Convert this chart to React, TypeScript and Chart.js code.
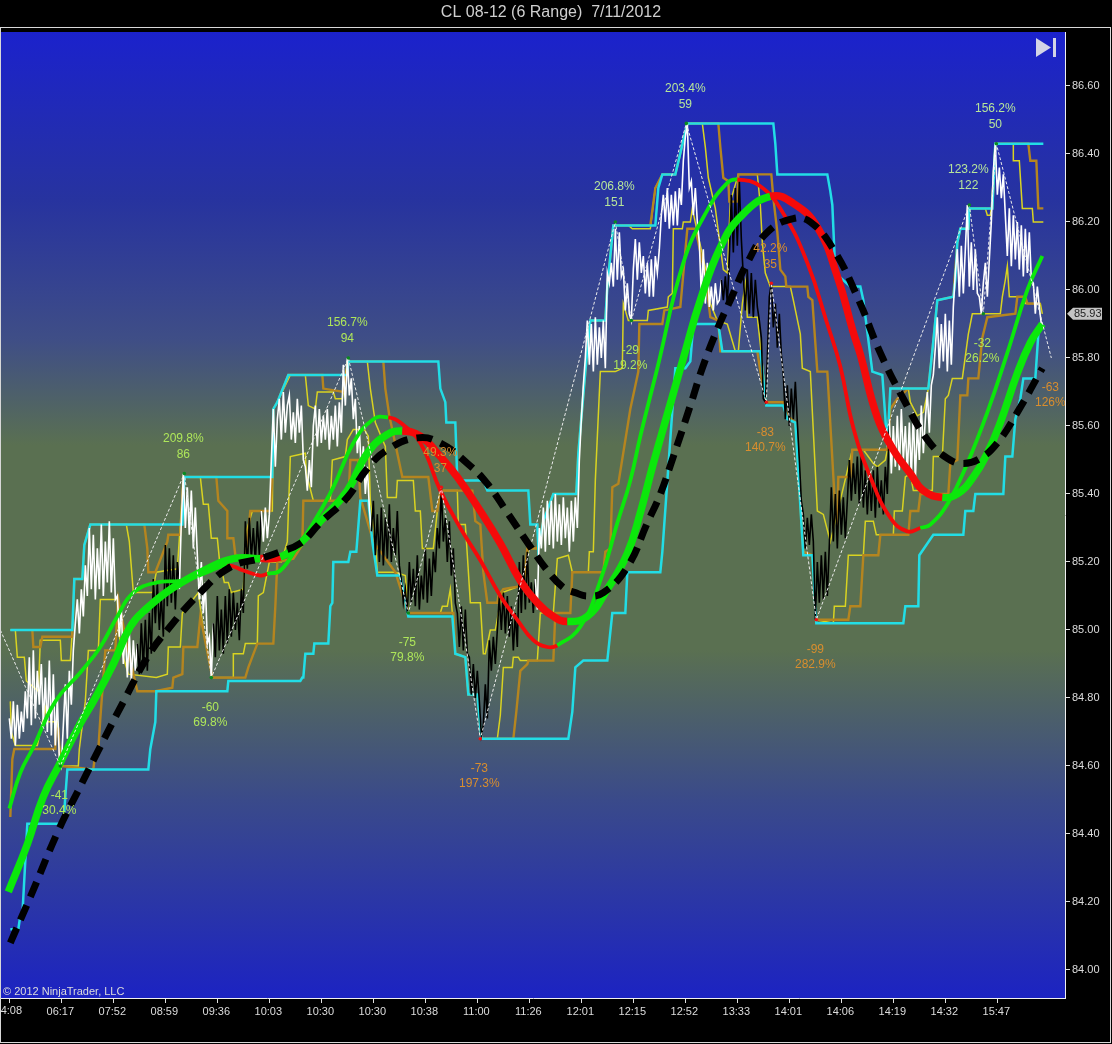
import React, { useEffect, useRef } from "react";
import { Chart, registerables } from "chart.js";

Chart.register(...registerables);

type Pair = [number, number];

const chartTitle = "CL 08-12 (6 Range)  7/11/2012";
const copyrightText = "© 2012 NinjaTrader, LLC";
const lastPrice = 85.93;

const timeLabels = ["04:08","06:17","07:52","08:59","09:36","10:03","10:30","10:30","10:38","11:00","11:26","12:01","12:15","12:52","13:33","14:01","14:06","14:19","14:32","15:47"];
const barsPerLabel = 52;
const priceTicks = [84.0,84.2,84.4,84.6,84.8,85.0,85.2,85.4,85.6,85.8,86.0,86.2,86.4,86.6];

// Range bars: alternating highs and lows, one every 2 bar units.
const barStep = 2;
const priceBars = [
84.74,84.68,84.79,84.66,84.78,84.68,84.76,84.70,84.82,84.74,
84.92,84.72,84.94,84.74,84.88,84.78,84.90,84.72,84.86,84.70,
84.91,84.69,84.87,84.66,84.80,84.62,84.60,84.72,84.84,84.68,
84.88,84.78,84.94,85.02,85.09,84.99,85.12,85.04,85.19,85.10,
85.30,85.12,85.28,85.09,85.24,85.12,85.31,85.10,85.26,85.14,
85.32,85.11,85.27,85.09,85.10,84.98,85.06,84.90,85.00,84.86,
84.99,84.85,84.97,84.88,84.96,84.87,85.02,84.89,85.03,84.88,
85.05,84.93,85.15,85.02,85.14,85.00,85.10,84.98,85.25,85.07,
85.24,85.08,85.22,85.06,85.20,85.12,85.32,85.46,85.30,85.42,
85.28,85.41,85.24,85.36,85.22,85.09,85.20,85.05,85.14,84.96,
84.98,84.86,85.02,84.92,85.10,84.94,85.06,84.93,85.10,84.96,
85.12,84.98,85.11,85.00,85.08,84.97,85.12,85.05,85.32,85.18,
85.33,85.21,85.30,85.20,85.32,85.22,85.35,85.26,85.36,85.27,
85.34,85.50,85.65,85.48,85.62,85.68,85.56,85.70,85.58,85.66,
85.69,85.56,85.64,85.55,85.68,85.58,85.66,85.50,85.48,85.41,
85.50,85.42,85.60,85.66,85.54,85.65,85.55,85.63,85.56,85.65,
85.53,85.63,85.56,85.66,85.54,85.67,85.58,85.78,85.66,85.80,
85.69,85.74,85.62,85.68,85.52,85.60,85.45,85.54,85.40,85.48,
85.36,85.29,85.38,85.22,85.34,85.20,85.36,85.19,85.33,85.21,
85.37,85.20,85.30,85.22,85.35,85.19,85.15,85.08,85.12,85.05,
85.20,85.08,85.18,85.07,85.22,85.06,85.16,85.09,85.24,85.08,
85.21,85.10,85.23,85.17,85.30,85.24,85.42,85.26,85.33,85.20,
85.32,85.16,85.24,85.08,85.05,84.95,85.07,84.94,85.06,84.93,
84.92,84.81,84.90,84.80,84.88,84.79,84.69,84.72,84.84,84.74,
84.97,84.88,84.98,84.90,85.00,85.10,85.00,85.11,84.99,85.10,
84.98,85.07,84.94,85.05,84.95,85.20,85.05,85.22,85.06,85.23,
85.08,85.14,85.05,85.15,85.06,85.30,85.24,85.36,85.23,85.38,
85.25,85.38,85.24,85.40,85.26,85.37,85.25,85.39,85.27,85.36,
85.23,85.38,85.26,85.39,85.30,85.50,85.62,85.72,85.80,85.91,
85.78,85.90,85.76,85.92,85.78,85.89,85.80,85.91,85.77,86.05,
86.02,86.08,86.01,86.18,86.03,86.17,86.04,86.06,85.94,86.02,
85.93,85.91,86.06,86.15,86.03,86.14,86.05,86.10,85.99,86.08,
85.98,86.09,85.98,86.10,86.05,86.12,86.22,86.28,86.20,86.30,
86.18,86.28,86.19,86.29,86.19,86.30,86.25,86.38,86.45,86.49,
86.30,86.32,86.22,86.30,86.20,86.14,85.98,86.12,85.96,86.08,
85.95,86.01,85.94,86.02,85.96,85.97,86.03,85.97,86.04,85.96,
86.10,86.28,86.11,86.30,86.13,86.32,86.15,86.04,85.94,86.06,
85.93,86.05,85.92,86.03,85.95,85.91,85.86,85.68,85.67,85.80,
85.98,86.02,85.89,85.96,85.83,85.93,85.81,85.75,85.62,85.72,
85.60,85.71,85.62,85.73,85.61,85.50,85.38,85.34,85.24,85.33,
85.25,85.34,85.26,85.03,85.20,85.08,85.22,85.09,85.23,85.10,
85.25,85.42,85.26,85.40,85.24,85.41,85.28,85.39,85.27,85.38,
85.50,85.38,85.49,85.40,85.51,85.37,85.52,85.36,85.47,85.34,
85.46,85.35,85.47,85.33,85.48,85.36,85.44,85.34,85.48,85.40,
85.62,85.46,85.60,85.48,85.63,85.47,85.65,85.50,85.60,85.46,
85.61,85.45,85.64,85.44,85.60,85.50,85.66,85.52,85.62,85.70,
85.58,85.72,85.75,85.83,85.92,85.77,85.90,85.79,85.93,85.76,
85.91,85.78,85.95,86.05,86.12,85.98,86.13,85.99,86.12,86.25,
86.01,86.14,86.00,86.12,85.99,85.98,85.93,86.02,86.08,85.98,
86.09,86.20,86.35,86.43,86.28,86.36,86.27,86.34,86.22,86.10,
86.24,86.07,86.22,86.09,86.20,86.06,86.19,86.04,86.18,86.05,
86.17,86.03,86.02,85.93,86.01,85.95,85.90,
];
const darkBarRanges: Pair[] = [[127,169],[204,251],[361,526],[711,879]];

// Swing pivots
const swingStart: Pair = [-9, 85.0];
const pivotBars = [51,175,202,339,399,432,471,606,622,677,757,762,807,960,974,987,1042];
const pivotPrices = [84.60,85.46,84.86,85.80,85.05,85.42,84.68,86.20,85.91,86.49,85.67,86.02,85.03,86.25,85.93,86.43,85.80];
const pivotLabelA = ["-41","209.8%","-60","156.7%","-75","49.3%","-73","206.8%","-29","203.4%","-83","42.2%","-99","123.2%","-32","156.2%","-63"];
const pivotLabelB = ["30.4%","86","69.8%","94","79.8%","37","197.3%","151","19.2%","59","140.7%","35","282.9%","122","26.2%","50","126%"];
const pivotLabelColors = ["#aee65a","#aee65a","#aee65a","#aee65a","#aee65a","#d98e2e","#d98e2e","#b7e59a","#aee65a","#b7e59a","#d98e2e","#d98e2e","#d98e2e","#b7e59a","#aee65a","#b7e59a","#d98e2e"];
const pivotDotColors = ["#0a8a20","#0a8a20","#0a8a20","#0a8a20","#0a8a20","#f01010","#f01010","#0a8a20","#0a8a20","#0a8a20","#f01010","#f01010","#f01010","#0a8a20","#0a8a20","#0a8a20"];

const cyanUpper: Pair[] = [[1,85.00],[63,85.00],[65,85.15],[73,85.15],[75,85.25],[81,85.31],[173,85.31],[175,85.45],[263,85.45],[264,85.65],[268,85.67],[279,85.75],[338,85.75],[339,85.79],[429,85.79],[431,85.71],[436,85.67],[437,85.61],[446,85.61],[448,85.44],[474,85.44],[478,85.41],[519,85.41],[521,85.31],[528,85.31],[529,85.24],[534,85.32],[544,85.40],[567,85.40],[569,85.52],[576,85.76],[581,85.91],[596,85.91],[598,86.01],[604,86.19],[646,86.19],[649,86.30],[653,86.34],[666,86.34],[678,86.49],[764,86.49],[766,86.43],[768,86.34],[818,86.34],[821,86.29],[823,86.25],[826,86.05],[841,86.01],[851,86.01],[854,85.97],[863,85.76],[873,85.75],[878,85.54],[881,85.71],[919,85.71],[923,85.82],[928,85.97],[944,85.98],[946,86.03],[948,86.14],[951,86.18],[959,86.18],[960,86.24],[983,86.24],[986,86.43],[1034,86.43]];
const cyanLower: Pair[] = [[1,84.12],[9,84.12],[11,84.16],[13,84.16],[18,84.43],[21,84.43],[54,84.43],[58,84.59],[139,84.59],[141,84.65],[146,84.73],[147,84.82],[218,84.82],[219,84.85],[291,84.85],[293,84.86],[294,84.86],[296,84.93],[304,84.93],[305,84.96],[319,84.96],[321,85.07],[323,85.08],[324,85.20],[339,85.20],[341,85.23],[347,85.23],[351,85.38],[359,85.38],[363,85.26],[368,85.16],[391,85.16],[399,85.04],[443,85.04],[446,84.93],[456,84.92],[459,84.81],[468,84.81],[472,84.68],[559,84.68],[563,84.76],[566,84.89],[574,84.91],[598,84.91],[603,85.05],[616,85.05],[618,85.17],[651,85.17],[653,85.23],[666,85.77],[676,85.77],[681,85.79],[684,85.90],[709,85.90],[713,85.82],[751,85.82],[757,85.66],[774,85.66],[778,85.62],[786,85.61],[794,85.22],[803,85.22],[807,85.02],[894,85.02],[896,85.07],[909,85.07],[910,85.22],[924,85.28],[954,85.28],[956,85.35],[964,85.35],[966,85.40],[994,85.40],[996,85.51],[1003,85.51],[1006,85.62],[1011,85.68],[1014,85.74],[1026,85.74],[1029,85.87],[1033,85.90]];
const yellowUpper: Pair[] = [[1,85.00],[6,85.00],[8,84.92],[15,84.92],[17,84.85],[29,84.82],[31,84.97],[51,84.97],[52,84.91],[61,84.91],[63,85.00],[65,85.15],[73,85.15],[75,85.25],[81,85.31],[117,85.31],[120,85.26],[124,85.11],[143,85.11],[147,85.17],[168,85.18],[171,85.31],[174,85.45],[191,85.45],[194,85.37],[199,85.37],[202,85.27],[208,85.27],[210,85.21],[215,85.14],[219,85.14],[222,85.11],[234,85.12],[237,85.29],[243,85.35],[263,85.35],[264,85.65],[268,85.67],[281,85.75],[296,85.75],[299,85.66],[306,85.65],[308,85.70],[324,85.70],[326,85.68],[333,85.68],[338,85.79],[358,85.79],[361,85.71],[366,85.61],[376,85.54],[378,85.39],[387,85.39],[388,85.44],[404,85.44],[406,85.35],[411,85.35],[413,85.24],[424,85.24],[428,85.35],[431,85.41],[448,85.41],[449,85.31],[456,85.31],[458,85.22],[461,85.08],[471,85.08],[474,84.93],[476,84.93],[481,85.00],[486,85.00],[493,85.11],[511,85.13],[514,85.13],[519,85.24],[528,85.24],[534,85.32],[544,85.40],[567,85.40],[569,85.52],[576,85.76],[581,85.91],[596,85.91],[598,86.01],[604,86.19],[619,86.19],[623,86.18],[641,86.18],[646,86.30],[653,86.34],[666,86.34],[678,86.49],[693,86.49],[696,86.42],[699,86.33],[706,86.24],[714,86.06],[718,86.05],[721,86.26],[729,86.34],[748,86.34],[751,86.25],[753,86.14],[756,86.05],[761,86.01],[781,86.01],[784,85.97],[791,85.87],[793,85.77],[801,85.76],[808,85.35],[814,85.34],[821,85.26],[826,85.32],[843,85.53],[854,85.53],[864,85.49],[868,85.48],[876,85.50],[878,85.53],[881,85.71],[899,85.71],[901,85.67],[908,85.63],[914,85.64],[919,85.71],[923,85.82],[928,85.97],[944,85.98],[946,86.03],[948,86.14],[951,86.18],[959,86.18],[960,86.24],[976,86.24],[978,86.22],[981,86.22],[982,86.24],[986,86.43],[1004,86.43],[1004,86.38],[1010,86.38],[1013,86.24],[1023,86.24],[1024,86.20],[1034,86.20]];
const yellowLower: Pair[] = [[1,84.79],[2,84.70],[6,84.66],[28,84.66],[36,84.77],[38,84.73],[48,84.73],[50,84.66],[53,84.60],[69,84.60],[70,84.65],[76,84.79],[79,84.94],[89,84.94],[91,85.09],[108,85.09],[109,85.00],[113,84.93],[119,84.87],[147,84.86],[158,84.87],[159,84.95],[171,84.95],[173,85.05],[189,85.11],[194,85.00],[203,84.86],[224,84.86],[224,84.93],[234,84.93],[236,84.96],[248,84.96],[249,85.10],[254,85.11],[260,85.20],[272,85.20],[278,85.26],[281,85.51],[296,85.52],[297,85.46],[304,85.38],[321,85.38],[323,85.50],[336,85.51],[338,85.56],[344,85.59],[355,85.59],[359,85.57],[361,85.38],[366,85.26],[368,85.17],[386,85.17],[396,85.16],[399,85.05],[431,85.05],[433,85.07],[438,85.07],[441,85.12],[443,85.05],[444,85.04],[446,84.93],[456,84.92],[459,84.81],[468,84.81],[472,84.68],[488,84.68],[491,84.75],[494,84.89],[503,84.89],[504,84.92],[509,84.92],[511,84.91],[528,84.91],[531,85.05],[544,85.05],[546,85.13],[548,85.21],[559,85.22],[563,85.17],[579,85.17],[580,85.23],[584,85.23],[586,85.44],[591,85.76],[606,85.76],[613,85.77],[614,85.96],[619,85.91],[638,85.91],[639,85.94],[658,85.95],[659,85.98],[663,85.99],[664,86.18],[673,86.18],[674,86.20],[681,86.20],[683,86.24],[688,86.17],[698,86.04],[701,85.96],[708,85.91],[718,85.90],[726,85.82],[729,85.82],[733,85.96],[736,86.02],[738,85.92],[748,85.92],[751,85.84],[757,85.67],[774,85.67],[778,85.63],[786,85.61],[794,85.23],[803,85.22],[807,85.03],[824,85.02],[825,85.07],[836,85.07],[839,85.22],[854,85.22],[856,85.32],[864,85.32],[867,85.28],[884,85.28],[885,85.35],[893,85.35],[896,85.45],[901,85.46],[904,85.41],[923,85.41],[924,85.51],[933,85.51],[936,85.68],[939,85.69],[943,85.74],[953,85.74],[959,85.87],[963,85.93],[991,85.93],[993,85.98],[996,86.03],[998,86.07],[1000,85.98],[1014,85.98],[1016,85.96],[1031,85.96],[1033,85.93]];
const orangeUpper: Pair[] = [[23,85.00],[24,84.95],[31,84.95],[33,84.98],[63,84.98],[65,85.15],[73,85.15],[75,85.25],[81,85.31],[135,85.31],[138,85.24],[139,85.17],[146,85.17],[158,85.26],[159,85.28],[171,85.28],[173,85.38],[174,85.45],[207,85.45],[209,85.38],[218,85.35],[218,85.27],[224,85.27],[226,85.22],[236,85.21],[238,85.26],[241,85.35],[261,85.35],[263,85.45],[264,85.65],[268,85.67],[279,85.75],[313,85.75],[314,85.71],[334,85.70],[339,85.79],[374,85.79],[376,85.71],[380,85.63],[393,85.45],[419,85.45],[423,85.35],[428,85.35],[431,85.41],[463,85.41],[466,85.32],[471,85.31],[474,85.17],[478,85.08],[488,85.08],[489,85.10],[494,85.12],[514,85.13],[518,85.24],[528,85.24],[534,85.32],[544,85.40],[567,85.40],[569,85.52],[576,85.76],[581,85.91],[596,85.91],[598,86.01],[604,86.19],[641,86.19],[646,86.30],[653,86.34],[666,86.34],[678,86.49],[709,86.49],[711,86.42],[714,86.33],[719,86.32],[720,86.26],[728,86.26],[729,86.34],[762,86.34],[764,86.27],[768,86.17],[771,86.06],[776,86.04],[777,86.01],[798,86.01],[799,85.98],[803,85.97],[808,85.76],[818,85.76],[826,85.35],[828,85.32],[829,85.45],[841,85.45],[843,85.53],[878,85.53],[881,85.65],[888,85.68],[899,85.71],[919,85.71],[923,85.82],[928,85.97],[944,85.98],[948,86.14],[951,86.18],[959,86.18],[960,86.24],[983,86.24],[986,86.43],[1019,86.43],[1021,86.38],[1027,86.38],[1029,86.24],[1034,86.24]];
const orangeLower: Pair[] = [[1,84.45],[3,84.62],[5,84.65],[46,84.65],[46,84.71],[49,84.71],[51,84.60],[84,84.59],[86,84.64],[89,84.65],[91,84.74],[96,84.94],[106,84.94],[108,85.05],[109,85.09],[118,84.95],[128,84.82],[146,84.82],[163,84.83],[164,84.86],[173,84.87],[174,84.95],[188,84.95],[191,85.04],[203,84.86],[236,84.86],[239,84.89],[248,84.96],[264,84.96],[266,85.07],[268,85.20],[284,85.21],[293,85.25],[294,85.38],[303,85.38],[339,85.38],[341,85.50],[349,85.50],[351,85.39],[364,85.26],[386,85.17],[399,85.05],[444,85.05],[446,84.93],[456,84.92],[459,84.81],[468,84.81],[472,84.68],[504,84.68],[507,84.76],[511,84.88],[518,84.90],[519,84.91],[544,84.91],[546,85.05],[561,85.05],[563,85.17],[594,85.17],[596,85.23],[601,85.24],[603,85.42],[609,85.43],[621,85.65],[629,85.76],[630,85.90],[653,85.90],[655,85.94],[671,85.95],[678,86.18],[686,86.18],[689,86.14],[696,86.04],[701,85.92],[709,85.91],[711,85.82],[748,85.82],[751,85.76],[757,85.67],[774,85.67],[778,85.63],[786,85.61],[794,85.23],[803,85.22],[807,85.03],[839,85.03],[841,85.07],[851,85.07],[854,85.22],[869,85.22],[871,85.28],[899,85.28],[901,85.35],[909,85.35],[911,85.40],[939,85.40],[941,85.49],[948,85.50],[951,85.69],[958,85.69],[959,85.74],[969,85.74],[973,85.86],[978,85.92],[1006,85.93],[1008,85.98],[1016,85.98],[1018,85.96],[1031,85.96]];

const slowAverage: Pair[] = [[1,84.08],[21,84.215],[49,84.41],[71,84.54],[88,84.64],[116,84.80],[138,84.92],[158,85.00],[191,85.11],[221,85.185],[251,85.21],[271,85.23],[291,85.255],[311,85.315],[338,85.39],[358,85.475],[378,85.53],[408,85.565],[431,85.55],[458,85.49],[478,85.43],[498,85.345],[521,85.245],[538,85.175],[554,85.125],[566,85.11],[578,85.10],[594,85.11],[618,85.185],[638,85.315],[651,85.40],[664,85.51],[681,85.66],[693,85.77],[708,85.885],[721,85.97],[738,86.08],[758,86.17],[784,86.21],[801,86.20],[824,86.12],[848,85.98],[871,85.815],[894,85.68],[918,85.56],[938,85.505],[954,85.49],[971,85.505],[988,85.55],[1008,85.64],[1033,85.77]];
const mediumAverage: Pair[] = [[-1,84.23],[18,84.37],[34,84.51],[51,84.61],[71,84.725],[84,84.79],[104,84.90],[121,85.01],[138,85.065],[164,85.125],[198,85.18],[224,85.21],[251,85.21],[271,85.215],[291,85.255],[311,85.32],[338,85.41],[358,85.52],[378,85.575],[393,85.585],[411,85.57],[431,85.51],[448,85.45],[471,85.35],[491,85.255],[511,85.145],[528,85.08],[544,85.04],[558,85.025],[578,85.04],[598,85.12],[618,85.225],[631,85.345],[644,85.49],[661,85.665],[676,85.82],[691,85.97],[711,86.125],[731,86.215],[761,86.275],[784,86.255],[808,86.185],[828,86.04],[844,85.875],[851,85.81],[868,85.625],[884,85.53],[901,85.46],[914,85.41],[933,85.39],[948,85.40],[964,85.45],[978,85.52],[991,85.61],[1008,85.755],[1021,85.845],[1033,85.90]];
const fastAverage: Pair[] = [[0,84.475],[11,84.58],[24,84.655],[46,84.79],[71,84.875],[91,84.95],[108,85.04],[124,85.11],[148,85.14],[174,85.145],[198,85.17],[218,85.19],[234,85.175],[251,85.16],[258,85.165],[271,85.175],[288,85.245],[304,85.315],[324,85.42],[344,85.55],[364,85.62],[379,85.625],[391,85.61],[411,85.55],[431,85.41],[451,85.30],[471,85.205],[491,85.10],[508,85.03],[524,84.97],[538,84.95],[548,84.955],[571,85.01],[591,85.145],[608,85.315],[621,85.44],[631,85.57],[648,85.77],[674,86.08],[698,86.235],[718,86.315],[728,86.325],[751,86.305],[774,86.225],[798,86.08],[818,85.90],[831,85.775],[844,85.595],[861,85.45],[881,85.33],[898,85.29],[911,85.30],[921,85.31],[939,85.375],[958,85.49],[978,85.64],[998,85.815],[1018,86.00],[1033,86.10]];
const mediumFallingRanges: Pair[] = [[231,254],[393,558],[761,933]];
const fastFallingRanges: Pair[] = [[218,253],[379,543],[728,901]];

const COL = {
  cyan: "#22dde6", yellow: "#d9d321", orange: "#b5851f", green: "#0be80b", red: "#f50a0a", axis: "#dcdcdc",
};

const inRanges = (x: number, ranges: Pair[]) => ranges.some(([a, b]) => x >= a && x < b);
const toPoints = (pairs: Pair[]) => pairs.map(([x, y]) => ({ x, y }));

export default function App() {
  const ref = useRef<HTMLCanvasElement>(null);
  useEffect(() => {
    document.body.style.margin = "0";
    document.body.style.background = "#000";
    const canvas = ref.current!;

    const decor = {
      id: "decor",
      beforeDraw(chart: any) {
        const { ctx, chartArea: a, width, height } = chart;
        ctx.save();
        ctx.fillStyle = "#000";
        ctx.fillRect(0, 0, width, height);
        const g = ctx.createLinearGradient(0, a.top, 0, a.bottom);
        const h = a.bottom - a.top;
        const stop = (y: number, c: string) => g.addColorStop((y - a.top) / h, c);
        stop(32, "#1b22cc");
        stop(200, "#27339f");
        stop(340, "#3f4e86");
        stop(445, "#5a7051");
        stop(650, "#5a7051");
        stop(800, "#3a4a8a");
        stop(998, "#1c23c2");
        ctx.fillStyle = g;
        ctx.fillRect(a.left, a.top, a.right - a.left, a.bottom - a.top);
        ctx.restore();
      },
      afterDraw(chart: any) {
        const { ctx, chartArea: a, scales, width } = chart;
        ctx.save();
        // pivot labels, clipped to the plot
        ctx.save();
        ctx.beginPath();
        ctx.rect(a.left, a.top, a.right - a.left, a.bottom - a.top);
        ctx.clip();
        ctx.font = "12px 'Liberation Sans'";
        ctx.textAlign = "center";
        ctx.textBaseline = "middle";
        pivotBars.forEach((bar, i) => {
          const px = scales.x.getPixelForValue(bar) - 1;
          const py = scales.y.getPixelForValue(pivotPrices[i]);
          const isHigh = pivotLabelA[i].endsWith("%");
          ctx.fillStyle = pivotLabelColors[i];
          ctx.fillText(pivotLabelA[i], px, py + (isHigh ? -35 : 30));
          ctx.fillText(pivotLabelB[i], px, py + (isHigh ? -19 : 45));
        });
        ctx.restore();
        // first time label, which overhangs the page edge
        ctx.fillStyle = COL.axis;
        ctx.font = "11px 'Liberation Sans'";
        ctx.textAlign = "center";
        ctx.textBaseline = "middle";
        ctx.fillText(timeLabels[0], scales.x.getPixelForValue(0) - 1, 1011);
        // title
        ctx.fillStyle = "#cfcfcf";
        ctx.font = "16px 'Liberation Sans'";
        ctx.fillText(chartTitle, 551, 13);
        // frame
        ctx.strokeStyle = "#d8d8d8";
        ctx.lineWidth = 1;
        ctx.strokeRect(0.5, 27.5, width - 2, 1015);
        // copyright
        ctx.fillStyle = "#dcdcdc";
        ctx.font = "11px 'Liberation Sans'";
        ctx.textAlign = "left";
        ctx.fillText(copyrightText, 3, 992);
        // skip-to-end icon
        ctx.fillStyle = "#d3d5e6";
        ctx.beginPath();
        ctx.moveTo(1036, 38);
        ctx.lineTo(1051, 47.5);
        ctx.lineTo(1036, 57);
        ctx.closePath();
        ctx.fill();
        ctx.fillRect(1053, 38, 3, 19);
        // last price flag
        const y = scales.y.getPixelForValue(lastPrice);
        ctx.fillStyle = "#c4c4c4";
        ctx.beginPath();
        ctx.moveTo(1067, y);
        ctx.lineTo(1073, y - 6);
        ctx.lineTo(1102, y - 6);
        ctx.lineTo(1102, y + 6);
        ctx.lineTo(1073, y + 6);
        ctx.closePath();
        ctx.fill();
        ctx.fillStyle = "#222";
        ctx.textBaseline = "middle";
        ctx.fillText(lastPrice.toFixed(2), 1074, y + 0.5);
        ctx.restore();
      },
    };

    const stair = (data: Pair[], color: string, w: number) => ({
      data: toPoints(data), borderColor: color, borderWidth: w, pointRadius: 0, tension: 0, fill: false,
    });
    const avg = (data: Pair[], w: number, falling: Pair[]) => ({
      data: toPoints(data), borderWidth: w, pointRadius: 0, fill: false, borderColor: COL.green,
      tension: 0.45,
      segment: { borderColor: (c: any) => (inRanges(c.p0.parsed.x, falling) ? COL.red : COL.green) },
    });

    // bottom to top
    const layers: any[] = [
      stair(yellowUpper, COL.yellow, 1.5),
      stair(yellowLower, COL.yellow, 1.5),
      stair(orangeUpper, COL.orange, 2.4),
      stair(orangeLower, COL.orange, 2.4),
      stair(cyanUpper, COL.cyan, 2.5),
      stair(cyanLower, COL.cyan, 2.5),
      {
        data: priceBars.map((y, i) => ({ x: i * barStep, y })),
        borderWidth: 1.6, pointRadius: 0, tension: 0, fill: false, borderColor: "#fff",
        segment: { borderColor: (c: any) => (inRanges(c.p0.parsed.x, darkBarRanges) ? "#000" : "#fff") },
      },
      avg(fastAverage, 3.8, fastFallingRanges),
      avg(mediumAverage, 7.5, mediumFallingRanges),
      {
        data: [{ x: swingStart[0], y: swingStart[1] }, ...pivotBars.map((x, i) => ({ x, y: pivotPrices[i] }))],
        borderColor: "#ececec", borderWidth: 1, borderDash: [3, 2], pointRadius: 0, tension: 0, fill: false,
      },
      {
        data: pivotBars.slice(0, -1).map((x, i) => ({ x, y: pivotPrices[i] })),
        showLine: false, pointRadius: 1.8, pointBorderWidth: 0,
        pointBackgroundColor: pivotDotColors,
      },
      {
        data: toPoints(slowAverage), borderColor: "#000", borderWidth: 7, borderDash: [16, 9],
        pointRadius: 0, fill: false, tension: 0.45,
      },
    ];
    layers.forEach((l, i) => (l.order = layers.length - i));

    const zeroPad = (s: any) => { s.paddingLeft = 0; s.paddingRight = 0; s.paddingTop = 0; s.paddingBottom = 0; };

    const chart = new Chart(canvas, {
      type: "line",
      data: { datasets: layers },
      plugins: [decor],
      options: {
        responsive: false,
        animation: false,
        parsing: false,
        normalized: false,
        devicePixelRatio: 1,
        events: [],
        layout: { autoPadding: false, padding: { left: 1, top: 32, right: 0, bottom: 0 } },
        plugins: { legend: { display: false }, tooltip: { enabled: false }, title: { display: false } },
        scales: {
          x: {
            type: "linear",
            min: -8.33,
            max: 1055.67,
            grid: { drawOnChartArea: false, drawTicks: true, tickLength: 5, color: "#e0e0e0" },
            border: { display: true, color: "#f0f0f0", width: 1 },
            afterBuildTicks: (s: any) => { s.ticks = timeLabels.map((_, i) => ({ value: i * barsPerLabel })); },
            afterFit: (s: any) => { s.height = 46; zeroPad(s); },
            ticks: {
              autoSkip: false, maxRotation: 0, minRotation: 0, padding: 2, color: COL.axis, labelOffset: -1,
              font: { family: "'Liberation Sans'", size: 11 },
              callback: (v: any) => {
                const i = Math.round(Number(v) / barsPerLabel);
                return i === 0 ? "" : timeLabels[i] ?? "";
              },
            },
          },
          y: {
            type: "linear",
            position: "right",
            min: 83.9176,
            max: 86.7588,
            grid: { drawOnChartArea: false, drawTicks: true, tickLength: 5, color: "#e0e0e0" },
            border: { display: true, color: "#f0f0f0", width: 1 },
            afterBuildTicks: (s: any) => { s.ticks = priceTicks.map((value) => ({ value })); },
            afterFit: (s: any) => { s.width = 47; zeroPad(s); },
            ticks: {
              autoSkip: false, padding: 2, color: COL.axis,
              font: { family: "'Liberation Sans'", size: 11 },
              callback: (v: any) => Number(v).toFixed(2),
            },
          },
        },
      } as any,
    });
    return () => chart.destroy();
  }, []);

  return <canvas ref={ref} width={1112} height={1044} style={{ display: "block", width: 1112, height: 1044 }} />;
}
